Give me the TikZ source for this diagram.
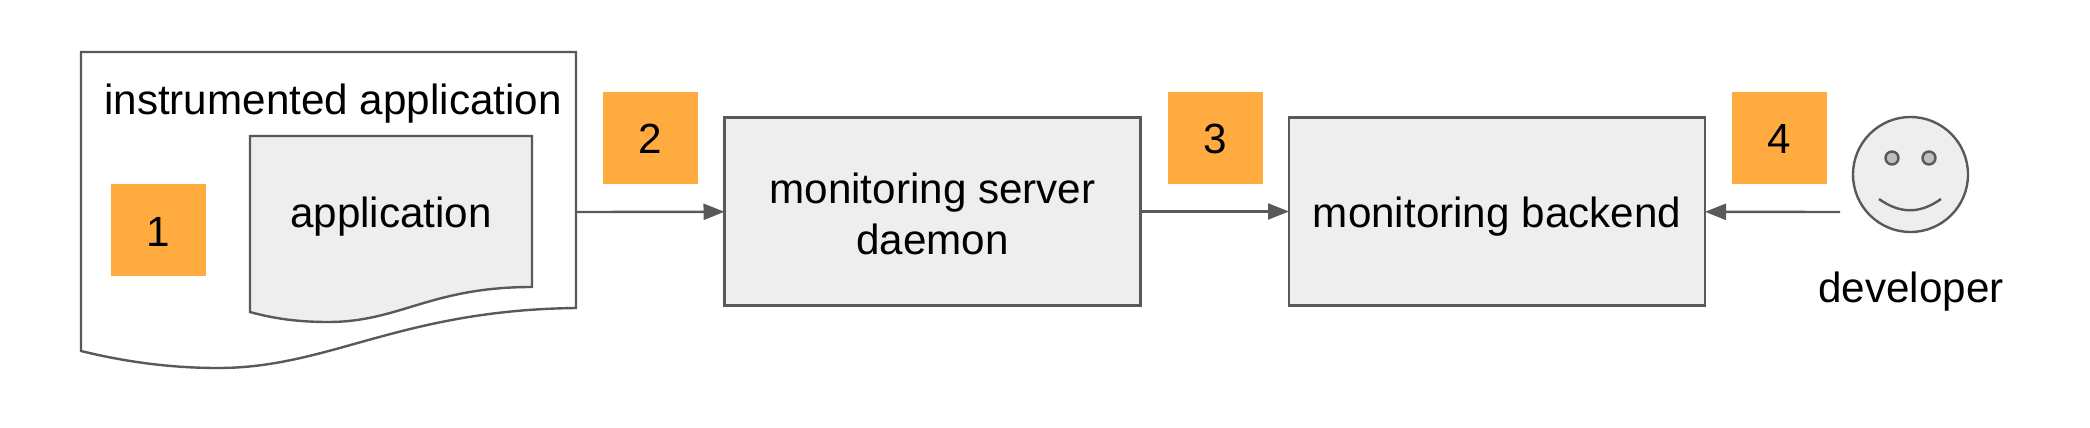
\documentclass[tikz,border=0pt]{standalone}
\usepackage{fontspec}
\setmainfont{Liberation Sans}
\usetikzlibrary{arrows.meta}

\begin{document}
\begin{tikzpicture}
[   x=0.5pt,y=-0.5pt,
    line width=1.2pt,
    every node/.style={font=\fontsize{21.1}{26}\selectfont,inner sep=0pt},
    lbl/.style={anchor=base,text=black},
    bnode/.style={draw=linegray,fill=boxgray,rectangle,outer sep=0pt,minimum width=208pt,minimum height=94pt},
    mnode/.style={fill=markorange,rectangle,minimum width=47.5pt,minimum height=46pt},
    eye/.style={draw=linegray,fill=eyegray,circle,minimum width=6.5pt},
    arr/.style={draw=linegray,-{Triangle[length=10.5pt,width=8pt]}},
]
    \definecolor{linegray}{HTML}{595959}
    \definecolor{boxgray}{HTML}{EEEEEE}
    \definecolor{eyegray}{HTML}{BEBEBE}
    \definecolor{markorange}{HTML}{FFAB40}

    \useasboundingbox (0,0) rectangle (2090,428);

    % outer and inner document shapes
    \draw[linegray,fill=white] (81,52) -- (576,52) -- (576,308)
        .. controls (400,310) and (330,368) .. (218,368)
        .. controls (175,368) and (130,363) .. (81,351) -- cycle;
    \draw[linegray,fill=boxgray] (250,136) -- (532,136) -- (532,287)
        .. controls (430,287) and (400,322) .. (328,322)
        .. controls (300,322) and (275,319) .. (250,312) -- cycle;
    \node[lbl] (instr) at (333,114) {instrumented application};
    \node[lbl] (app) at (391,227) {application};

    \node[bnode] (server) at (932.5,211.5) {};
    \node[bnode] (backend) at (1497,211.5) {};
    \node[lbl] (server-1) at (932.5,203) {monitoring server};
    \node[lbl] (server-2) at (932.5,254) {daemon};
    \node[lbl] (backend-1) at (1497,227) {monitoring backend};

    \foreach \n/\x/\y/\b in {1/158.5/230/246,2/650/138/153,3/1215/138/153,4/1779.5/138/153}
    {   \node[mnode] (mark-\n) at (\x,\y) {};
        \node[lbl] (num-\n) at (\x,\b) {\n};
    }

    % developer
    \node[draw=linegray,fill=boxgray,circle,minimum width=57.5pt] (face) at (1910.5,174.5) {};
    \node[eye] (eye-1) at (1892,158) {};
    \node[eye] (eye-2) at (1929,158) {};
    \draw[linegray] (1879,199) .. controls (1900,214) and (1920,214) .. (1941,199);
    \node[lbl] (dev) at (1911,302) {developer};

    \coordinate (instr-out) at (576,212);
    \coordinate (dev-out) at (1840,212);
    \draw[arr] (instr-out) -- (server);
    \draw[arr] (server) -- (backend);
    \draw[arr] (dev-out) -- (backend);
\end{tikzpicture}
\end{document}
